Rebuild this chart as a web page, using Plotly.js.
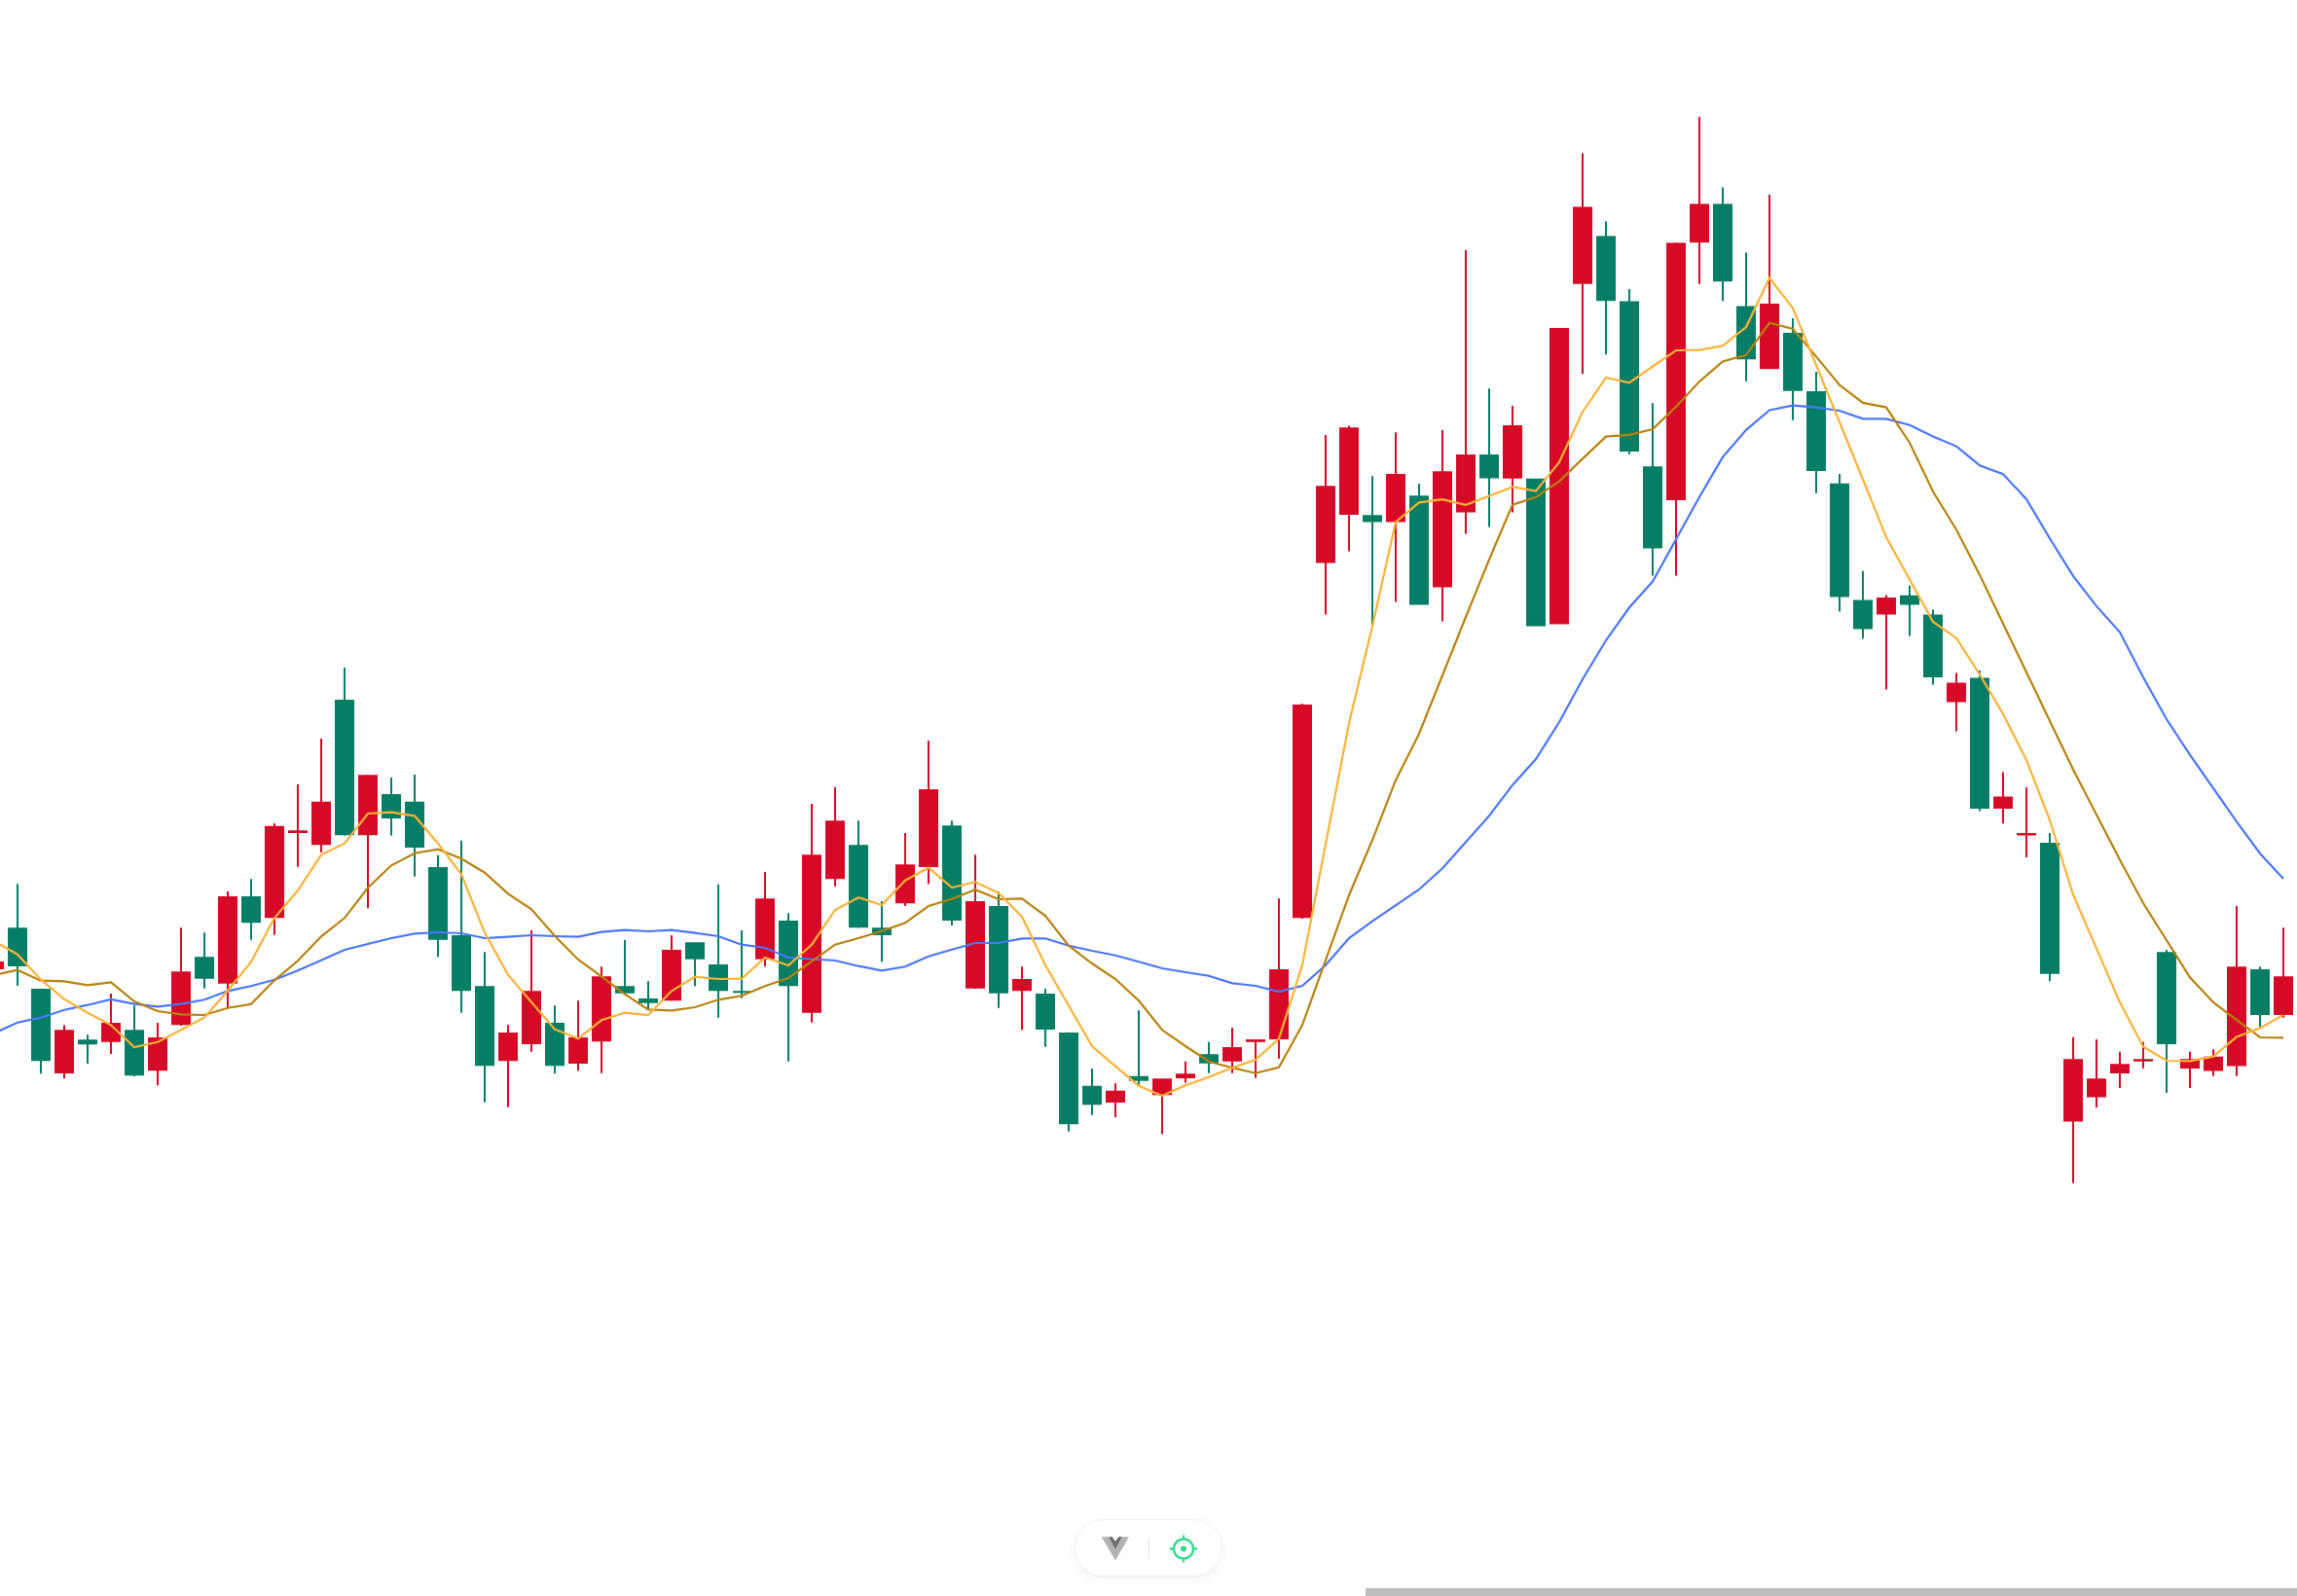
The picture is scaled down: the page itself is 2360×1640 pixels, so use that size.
<!DOCTYPE html>
<html>
<head>
<meta charset="utf-8">
<title>Candlestick chart</title>
<script src="https://cdn.plot.ly/plotly-3.0.1.min.js"></script>
<style>
html,body{margin:0;padding:0;background:#fff;overflow:hidden}
#chart{position:absolute;left:0;top:0;width:2360px;height:1640px}
#pill{position:absolute;left:1104px;top:1561px;width:152px;height:59px;box-sizing:border-box;border:1px solid #f0f0f0;border-radius:30px;background:#fff;box-shadow:0 3px 10px rgba(0,0,0,.05)}
#pill svg{position:absolute;left:0;top:0}
#scroll{position:absolute;left:1403px;top:1632px;width:957px;height:8px;background:#bebebe}
</style>
</head>
<body>
<div id="chart"></div>
<div id="pill">
<svg width="150" height="57" viewBox="0 0 150 57">
<path d="M26.7 17.3H37.7L41 22L44.3 17.3H55L41 41.3Z" fill="#b3b3b3"/>
<path d="M34.3 17.3H37.7L41 22L44.3 17.3H47.7L41 29.7Z" fill="#6e6e6e"/>
<line x1="75.5" y1="19" x2="75.5" y2="39" stroke="#e2e2e2" stroke-width="1"/>
<circle cx="111" cy="29.5" r="10" fill="none" stroke="#33dc92" stroke-width="2.4"/>
<circle cx="111" cy="29.5" r="3" fill="#33dc92"/>
<path d="M111 15.5V19.5M111 39.5V43.5M97 29.5H101M121 29.5H125" stroke="#33dc92" stroke-width="2.4"/>
</svg>
</div>
<div id="scroll"></div>
<script>
var index = [];
for (var n = 0; n < 99; n++) index.push(n);

var open = [644,686.7,624,537,571.7,569.3,581.7,539.7,586.7,656.7,
629.3,719,696.7,784,771.7,921,781.7,824,816.3,749,
679,626.7,549.7,567,589,547,569.7,626.7,614,611.7,
671.7,649,621.7,654.3,694,599.3,736.7,771.7,686.7,711.7,
749,791.7,624.3,709,621.7,619,579,524.3,507,534.3,
514.7,532,556.7,549.3,569.3,572,696.7,1061.4,1111.1,1110.7,
1103.6,1130.7,1036.4,1113.6,1172.9,1148.2,1148.2,998.6,1348.2,1397.5,
1330.4,1160.7,1126.1,1390.7,1430.4,1325.4,1260.7,1297.9,1238,1143.2,
1023.6,1008.6,1028.2,1008.6,918.6,943.6,809,781.4,774,487.5,
512.5,537.1,549.3,661.8,542.1,539.6,544.6,644,597.1];

var close = [652,647,549.7,581.7,566.7,589,534.7,574,641.7,634.3,
719,691.7,791.3,786.7,816.3,781.7,843.7,799,769,674.3,
621.7,544.7,579,621.7,544.7,574,636.7,619.3,609.3,664,
654.3,621.7,619.7,716.7,626.7,761.7,796.7,686.7,679,751.7,
829,694,714,619.3,634,582,484.7,504.7,519.3,529.3,
531.7,536.7,547.3,564,572,644,916,1140.7,1200.7,1103.6,
1152.9,1018.6,1155.7,1172.9,1148.6,1202.9,996.4,1302.9,1427.5,1330.7,
1176.1,1076.4,1390.4,1430.4,1350.7,1270.7,1327.9,1238.2,1156,1026.4,
993.6,1026.1,1018.6,944,938.6,809,821.4,784,639.3,551.8,
531.8,546.8,551.8,567.1,551.8,554.3,646.8,597.1,636.8];

var high = [652,731.7,624,586.7,576.7,619,606.7,589,686.7,681.7,
724,736.7,794,834,881,954,844,841,844,761.3,
776.3,661.7,586.7,684,606.7,611.7,646.7,674,631.7,679,
671.7,731.3,684,744,701.7,814,831.3,796.7,714,784,
879,796.7,761.7,724,646.7,624,579.3,542,526.7,601.7,
531.7,549.3,569.3,584,572,716.7,917,1193,1202.5,1150.7,
1195.7,1142.9,1197.9,1382.9,1240.7,1222.9,1148.2,1302.9,1482.5,1412.5,
1342.9,1225.7,1390.7,1520,1447.5,1380.4,1440,1312.9,1258,1153,
1053.2,1028.6,1038.2,1013.6,948.6,951,846.4,831.1,784,574.3,
572.1,559.3,569.3,664,559.3,561.8,709,646.8,686.8];

var low = [644,627,536.7,532,547,557,534,524.7,586,624.3,
604.3,674.3,679.3,749.3,764,781.3,706.7,781.3,739.3,656.7,
599.3,507.3,502.3,559.3,537,539.7,537.3,619,602.7,611.5,
626.7,594.3,614.3,646.7,549.3,589.3,729,686.5,651.7,709,
731.7,689,624,604.3,581.7,564.3,477.3,494.3,492,525,
474.7,527.3,537.3,537.3,532.3,552,696,1008.6,1073.6,996.4,
1021.4,1018.5,1001.4,1091.4,1098.6,1113.6,996.4,998.6,1255.7,1275.7,
1173.2,1048.6,1048.6,1348.2,1330.7,1248.2,1260.7,1208.2,1133.2,1011.4,
983.6,931.4,986.4,936.4,888.6,806.4,794,759,631.8,424.3,
502.1,522.1,542.1,517.1,522.1,534.3,534.3,584.3,594.3];

var maFast = [673,659.3,633.3,613.3,599.3,586.7,564,569.3,581.7,594.3,
622,651.7,696.7,725,761.7,773.3,804,805.3,801.7,773.3,
741.7,681.7,638.3,610,582.3,572.7,591.7,599.3,597,621.7,
636.3,634,634.3,656,648,669.3,705,717.7,710,735.3,
748.3,728,733.7,722.3,698,648.3,606.7,565,544.3,524.3,
514,524.7,533.3,542.7,551,572.7,648.3,772,896.7,996.4,
1103.6,1123.6,1126.8,1121.1,1130.4,1139.6,1135.4,1165,1216.8,1252.1,
1246.8,1263.2,1280,1280.4,1284.6,1304,1354.3,1323.4,1265.4,1206.4,
1147.5,1087.9,1044,1001.1,984.3,947,906.4,859,797.5,720.7,
665.4,610,564.6,550,549.6,554.3,574.6,583.6,597.1];

var maMid = [638,643.3,632.3,631.7,627.7,630.7,611,601,597.7,597,
604.3,608.3,632.7,652.7,677.7,696.7,727.7,750.7,763.3,767.3,
757.7,743.3,721.7,705.7,678.3,654,636.7,618.3,602.7,601.7,
605,612.7,616.7,626.7,635,651.7,669.3,676,683.3,691.7,
709,716.3,725.7,716,716.7,699,668.3,650,634,611.7,
581.7,565,549.3,542.7,537.3,543.3,586.7,653.3,720,776.7,
838.3,886,947,1006,1065,1121.4,1129.3,1145.4,1168.6,1191.4,
1193.2,1199,1222.1,1247.9,1268.6,1275.2,1308.2,1302,1273.6,1244.3,
1226.1,1221.4,1185,1135,1095.7,1049.3,999.3,950,899.3,849.3,
803,756.4,712,674.3,635.7,610,592.1,574,573.6];

var maSlow = [578.3,589.3,594.3,602.3,607.3,613,608.3,605.7,608.3,612.7,
621.7,626.7,633.3,642.7,653.3,664,670,676,680.7,682,
681,676,677.3,679,678,677.3,682.3,684.3,683,684.3,
681.3,678,669.3,666,656,654.7,653,647.3,642.7,646.7,
657.3,664.3,671,671,675.7,675.7,668.3,663,658.3,651.7,
645,641,637.3,629.7,627,621,627,648.3,676,693.3,
710,726,747.7,774.3,801.7,833.3,860,898,942,982,
1015.7,1042.5,1086.4,1129.3,1170.4,1198.2,1218.6,1223.4,1221.4,1218,
1209.6,1209.6,1203.2,1191.4,1181.4,1161.8,1152.9,1127.1,1086.8,1048.2,
1017.1,990.4,944,901,864.3,829.6,795.7,763,737.1];

var UP = '#d60a26', DOWN = '#067d65';

/* The body outline adds half its stroke outside each body edge (one axis unit = one pixel). */
var halfStroke = 1;
var bodyOpen = [], bodyClose = [];
for (var i = 0; i < open.length; i++) {
  var dir = close[i] >= open[i] ? 1 : -1;
  var inset = Math.min(halfStroke, Math.abs(close[i] - open[i]) / 2);
  bodyOpen.push(open[i] + dir * inset);
  bodyClose.push(close[i] - dir * inset);
}

var traces = [
  {type:'candlestick', x:index, open:bodyOpen, high:high, low:low, close:bodyClose,
   increasing:{line:{color:UP,width:2},fillcolor:UP},
   decreasing:{line:{color:DOWN,width:2},fillcolor:DOWN},
   whiskerwidth:0, hoverinfo:'skip', showlegend:false},
  {type:'scatter', mode:'lines', x:index, y:maSlow, line:{color:'#4a76fd',width:2.2}, hoverinfo:'skip', showlegend:false},
  {type:'scatter', mode:'lines', x:index, y:maMid, line:{color:'#b8820f',width:2.2}, hoverinfo:'skip', showlegend:false},
  {type:'scatter', mode:'lines', x:index, y:maFast, line:{color:'#fbb237',width:2.2}, hoverinfo:'skip', showlegend:false}
];

var layout = {
  width:2360, height:1640,
  margin:{l:0,r:0,t:0,b:0,pad:0},
  paper_bgcolor:'#ffffff', plot_bgcolor:'#ffffff',
  showlegend:false, boxgap:0.25, boxgroupgap:0, dragmode:false,
  xaxis:{range:[0.25,98.5833], visible:false, rangeslider:{visible:false}, fixedrange:true},
  yaxis:{range:[0,1640], visible:false, fixedrange:true}
};
Plotly.newPlot('chart', traces, layout, {displayModeBar:false, staticPlot:true});
</script>
</body>
</html>
